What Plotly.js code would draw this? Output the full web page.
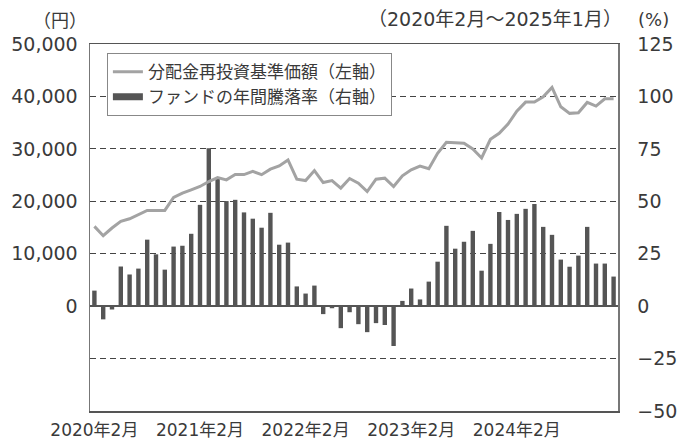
<!DOCTYPE html>
<html><head><meta charset="utf-8">
<script src="https://cdn.plot.ly/plotly-3.0.1.min.js"></script>
<style>html,body{margin:0;padding:0;background:#fff}#chart{width:686px;height:444px}</style>
</head><body><div id="chart"></div>
<script>
const months = [
 "2020-02","2020-03","2020-04","2020-05","2020-06","2020-07","2020-08","2020-09","2020-10","2020-11","2020-12","2021-01",
 "2021-02","2021-03","2021-04","2021-05","2021-06","2021-07","2021-08","2021-09","2021-10","2021-11","2021-12","2022-01",
 "2022-02","2022-03","2022-04","2022-05","2022-06","2022-07","2022-08","2022-09","2022-10","2022-11","2022-12","2023-01",
 "2023-02","2023-03","2023-04","2023-05","2023-06","2023-07","2023-08","2023-09","2023-10","2023-11","2023-12","2024-01",
 "2024-02","2024-03","2024-04","2024-05","2024-06","2024-07","2024-08","2024-09","2024-10","2024-11","2024-12","2025-01"];
const navValues = [
 15210,13440,14900,16160,16670,17430,18250,18250,18250,20720,21550,22190,
 22820,23770,24530,24090,25100,25100,25700,25070,26120,26750,27890,24220,
 23950,25860,23570,23950,22510,24340,23460,21860,24220,24410,22810,24850,
 25990,26700,26210,29160,31250,31180,31060,29980,28270,31820,32960,34730,
 37200,38920,38920,39920,41710,38020,36770,36880,38860,38160,39540,39540];
const rateValues = [
 7.4,-6.3,-1.6,18.9,15.1,17.9,31.7,24.7,17.4,28.4,28.8,34.5,
 48.3,75.3,61.5,50.1,50.7,44.7,41.7,37.4,44.5,29.3,30.3,9.4,
 6.0,9.8,-3.8,-1.0,-10.5,-2.9,-8.6,-12.4,-8.1,-9.0,-19.0,2.5,
 8.4,3.2,11.7,21.2,38.3,27.4,30.7,35.9,16.9,29.7,44.9,41.1,
 44.0,46.4,48.7,37.8,34.0,22.2,18.8,24.1,37.8,20.3,20.3,14.1];
const xTickVals = ["2020-02","2021-02","2022-02","2023-02","2024-02"];
const xTickText = ["2020年2月","2021年2月","2022年2月","2023年2月","2024年2月"];
const leftTickVals = [0,10000,20000,30000,40000,50000];
const leftTickText = ["0","10,000","20,000","30,000","40,000","50,000"];
const rightTickVals = [-50,-25,0,25,50,75,100,125];
const rightTickText = ["−50","−25","0","25","50","75","100","125"];
const lineName = "分配金再投資基準価額（左軸）";
const barName = "ファンドの年間騰落率（右軸）";

const FJ = '"Noto Sans CJK JP", sans-serif';
const FN = '"DejaVu Sans", "Noto Sans CJK JP", sans-serif';
const TXT = '#3a3a3a';
const data = [
 {type:'scatter', mode:'lines', name:lineName, x:months, y:navValues, yaxis:'y2',
  line:{color:'#a3a3a3', width:3}},
 {type:'bar', name:barName, x:months, y:rateValues, yaxis:'y',
  marker:{color:'#555555'}, showlegend:false},
 {type:'scatter', mode:'lines', name:barName, x:[null], y:[null], yaxis:'y',
  line:{color:'#555555', width:7}, hoverinfo:'skip'}
];
const layout = {
 width:686, height:444,
 margin:{l:90, r:68, t:44, b:33},
 paper_bgcolor:'#fff', plot_bgcolor:'#fff',
 font:{family:FJ, size:17, color:TXT},
 showlegend:true,
 bargap:0.5,
 legend:{x:0.032, y:0.975, xanchor:'left', yanchor:'top', bgcolor:'#fff', bordercolor:'#888', borderwidth:1,
   font:{family:FJ, size:17, color:TXT}, tracegroupgap:0, itemwidth:30},
 xaxis:{type:'category', range:[-0.5,59.5], tickmode:'array', tickvals:xTickVals, ticktext:xTickText,
   showline:true, mirror:true, linecolor:'#555', linewidth:1.5, ticks:'', showgrid:false,
   tickfont:{family:FN, size:17, color:TXT}, ticklabelstandoff:3},
 yaxis:{side:'right', range:[-50,125], tickmode:'array', tickvals:rightTickVals, ticktext:rightTickText,
   showline:true, linecolor:'#777', linewidth:1.5, ticks:'', showgrid:true, gridcolor:'#444', griddash:'6px,4px', gridwidth:1,
   zeroline:true, zerolinecolor:'#555', zerolinewidth:1.5,
   tickfont:{family:FN, size:19, color:TXT}, ticklabelstandoff:14},
 yaxis2:{overlaying:'y', side:'left', range:[-20000,50000], tickmode:'array', tickvals:leftTickVals, ticktext:leftTickText,
   showline:true, linecolor:'#777', linewidth:1.5, ticks:'', showgrid:false, zeroline:false,
   tickfont:{family:FN, size:19, color:TXT}, ticklabelstandoff:7},
 annotations:[
  {xref:'paper', yref:'paper', x:-0.057, y:1.068, xanchor:'center', yanchor:'middle', text:'（円）', showarrow:false, font:{family:FJ,size:18,color:TXT}},
  {xref:'paper', yref:'paper', x:1.012, y:1.068, xanchor:'right', yanchor:'middle', text:'（2020年2月～2025年1月）', showarrow:false, font:{family:FN,size:19,color:TXT}},
  {xref:'paper', yref:'paper', x:1.068, y:1.068, xanchor:'center', yanchor:'middle', text:'(%)', showarrow:false, font:{family:FN,size:18,color:TXT}}
 ]
};
Plotly.newPlot('chart', data, layout, {displayModeBar:false, staticPlot:true});
</script></body></html>
